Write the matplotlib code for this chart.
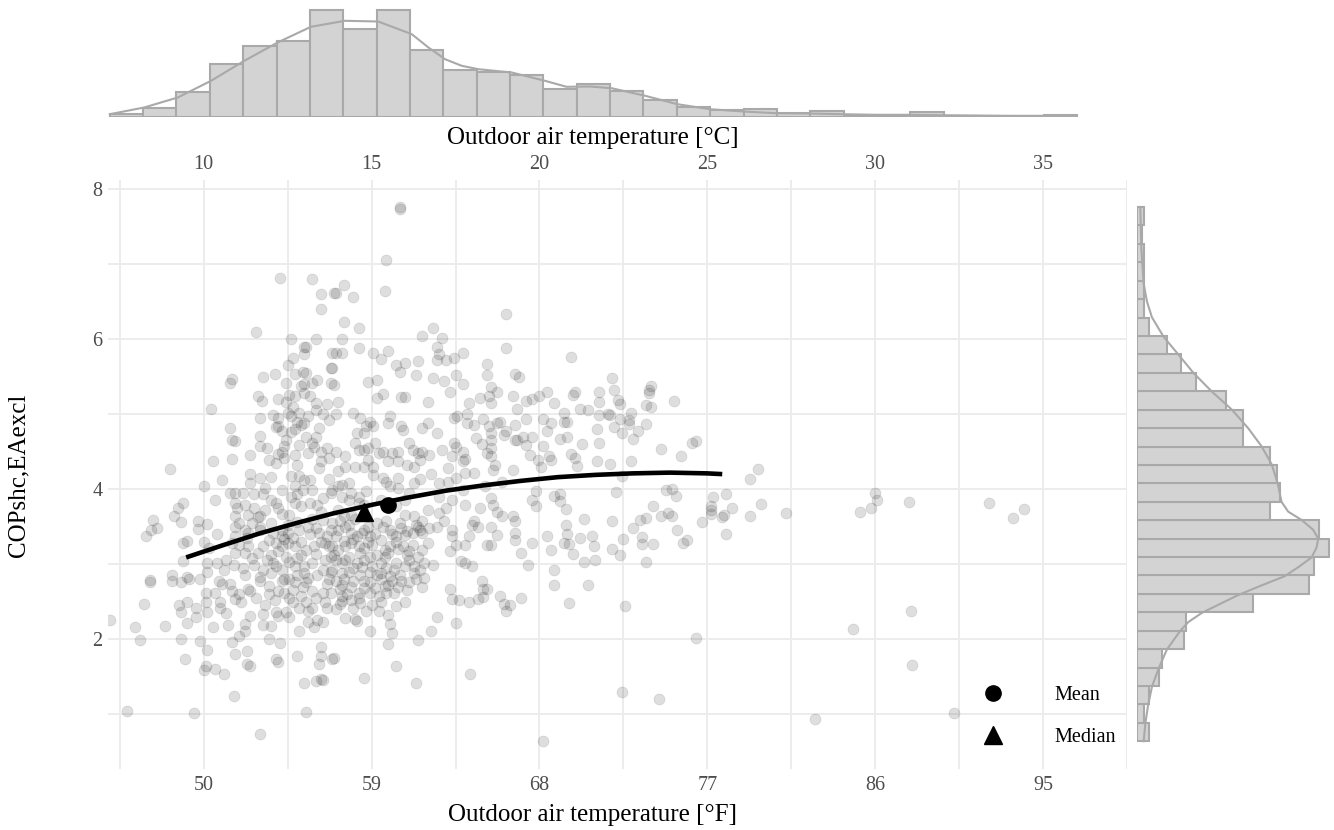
import numpy as np
import matplotlib
matplotlib.use("Agg")
import matplotlib.pyplot as plt
from matplotlib.lines import Line2D

plt.rcParams['font.family'] = ['Liberation Serif', 'DejaVu Serif']

# ---------------- data (°F, COP) ----------------
pts_a = np.array([  # upper left cloud
    (54.1,6.82),(55.8,6.80),(56.3,6.60),(56.3,6.40),(57.0,6.61),(52.8,6.10),(54.7,6.00),(56.0,6.00),
    (55.5,5.90),(55.4,5.89),(55.4,5.80),(54.8,5.75),(54.5,5.66),(54.9,5.54),(55.3,5.56),(55.5,5.55),
    (53.8,5.53),(53.2,5.49),(51.5,5.47),(51.4,5.41),(54.4,5.42),(55.2,5.38),(55.4,5.40),(55.8,5.41),
    (56.1,5.46),(56.8,5.61),(56.8,5.41),(56.9,5.81)])
pts_b = np.array([  # left middle
    (52.9,5.24),(53.1,5.17),(50.4,5.07),(54.0,5.20),(54.4,5.16),(54.6,5.26),(54.9,5.24),(55.4,5.28),
    (55.7,5.24),(56.0,5.15),(56.6,5.14),(56.0,5.05),(54.5,5.01),(54.7,4.98),(55.1,5.01),(53.7,4.99),
    (54.0,4.95),(53.0,4.95),(54.0,4.84),(53.9,4.83),(54.2,4.77),(54.7,4.76),(54.9,4.80),(55.4,4.88),
    (55.2,4.86),(55.6,4.97),(56.2,4.81),(56.7,4.92),(51.4,4.81),(51.5,4.66),(51.7,4.64),(53.0,4.71),
    (53.0,4.58),(54.3,4.57),(54.2,4.50),(54.0,4.47),(55.1,4.59),(55.5,4.70),(56.0,4.70),(55.9,4.56),
    (56.3,4.50),(56.6,4.55),(55.6,4.48),(56.7,4.41),(50.5,4.38),(51.5,4.40),(53.5,4.39),(53.9,4.35),
    (54.3,4.41),(54.9,4.46),(55.0,4.32),(56.3,4.37),(48.2,4.27),(50.0,4.04),(51.0,4.12),(50.6,3.86),
    (51.4,3.95),(51.7,3.95),(52.1,3.95),(52.5,4.20),(52.5,4.08),(53.0,4.15),(53.3,4.01),(53.6,4.16),
    (52.7,3.94),(53.2,3.94),(54.2,3.99),(54.7,4.17),(55.1,4.18),(55.4,4.12),(55.7,4.12),(54.9,4.04),
    (55.3,3.99),(55.8,3.99),(56.7,4.13),(55.0,3.94),(54.7,3.90),(51.7,3.81),(52.2,3.79),(51.8,3.75),
    (52.7,3.75),(52.9,3.63),(51.7,3.64),(53.6,3.86),(53.9,3.81),(54.0,3.75),(54.2,3.67),(54.9,3.81),
    (55.2,3.77),(55.7,3.81),(56.1,3.79),(56.4,3.88),(56.8,3.95),(48.9,3.82),(48.6,3.75),(48.4,3.64),
    (48.8,3.56),(47.3,3.59),(47.5,3.48),(47.2,3.46),(46.9,3.38),(49.7,3.58),(49.7,3.47),(50.2,3.54),
    (50.7,3.40),(48.9,3.28),(49.1,3.31),(48.9,3.04),(51.7,3.50),(51.7,3.37),(52.4,3.66),(52.6,3.55),
    (53.0,3.64),(53.0,3.50),(52.2,3.46),(52.3,3.35),(53.6,3.55),(53.7,3.41),(54.2,3.46),(54.2,3.37),
    (54.5,3.52),(54.5,3.41),(54.5,3.28),(55.1,3.46),(55.6,3.50),(56.0,3.48),(56.4,3.59),(56.8,3.46),
    (56.6,3.37),(50.0,3.30),(50.3,3.21),(51.5,3.28),(51.7,3.15),(51.9,3.26),(52.2,3.15),(52.4,3.24),
    (52.9,3.15),(53.2,3.24),(53.6,3.12),(54.0,3.17),(54.2,3.24),(54.4,3.10),(54.9,3.24),(55.2,3.12),
    (55.5,3.19),(55.9,3.24),(56.3,3.30),(56.7,3.24),(56.8,3.10),(50.2,3.01),(50.7,3.02),(51.2,3.06),
    (48.3,2.86),(49.1,2.83),(50.2,2.90),(51.1,2.92),(51.6,2.99),(52.1,2.95),(52.7,2.99),(53.2,2.92),
    (53.7,3.01),(54.2,2.92),(54.9,2.97),(55.4,2.88),(55.8,3.01),(56.4,2.92),(56.8,2.90),(47.1,2.79)])
pts_c = np.array([  # lower left
    (47.1,2.76),(48.3,2.78),(48.8,2.76),(49.2,2.80),(49.8,2.80),(50.8,2.78),(51.0,2.73),(51.4,2.73),
    (51.5,2.64),(51.9,2.60),(51.7,2.53),(52.0,2.49),(52.4,2.67),(52.5,2.64),(53.0,2.78),(53.5,2.71),
    (53.5,2.60),(54.0,2.64),(54.2,2.78),(54.6,2.80),(54.9,2.76),(55.5,2.76),(55.8,2.64),(56.4,2.62),
    (56.6,2.73),(46.8,2.47),(45.0,2.25),(46.3,2.16),(47.9,2.18),(46.6,1.99),(48.7,2.45),(48.8,2.36),
    (49.1,2.50),(49.1,2.21),(49.6,2.42),(49.6,2.29),(50.1,2.62),(50.1,2.49),(50.2,2.36),(50.9,2.49),
    (50.9,2.41),(50.5,2.16),(51.3,2.19),(52.2,2.20),(52.2,2.11),(51.9,2.04),(52.5,2.31),(53.2,2.19),
    (53.6,2.18),(53.9,2.36),(54.0,2.31),(54.4,2.36),(54.6,2.29),(54.8,2.49),(55.1,2.41),(55.5,2.49),
    (55.8,2.41),(55.6,2.23),(55.9,2.16),(56.1,2.26),(56.4,2.23),(55.1,2.11),(56.6,2.41),(48.8,2.00),
    (49.8,1.98),(50.2,1.86),(51.5,1.96),(51.7,1.80),(52.3,1.84),(53.5,2.00),(54.1,1.95),(52.3,1.67),
    (52.5,1.64),(53.9,1.73),(54.0,1.69),(55.0,1.77),(56.3,1.89),(56.3,1.78),(56.2,1.67),(56.9,1.74),
    (49.0,1.73),(50.1,1.64),(50.0,1.59),(50.6,1.60),(51.1,1.53),(55.4,1.41),(56.0,1.44),(56.3,1.47),
    (56.4,1.46),(51.6,1.24),(45.9,1.04),(49.5,1.01),(55.5,1.03),(53.0,0.73)])
pts_d = np.array([  # upper centre
    (60.5,7.74),(60.5,7.76),(59.8,7.06),(59.7,6.64),(57.1,6.62),(57.5,6.72),(58.0,6.56),(57.5,6.23),
    (58.3,6.15),(57.4,6.00),(66.2,6.34),(61.7,6.04),(62.3,6.15),(62.8,6.01),(62.5,5.90),(62.6,5.80),
    (62.5,5.72),(63.0,5.72),(63.4,5.75),(63.9,5.81),(57.1,5.81),(57.4,5.81),(58.3,5.88),(59.1,5.81),
    (59.5,5.74),(59.9,5.84),(60.3,5.66),(60.8,5.68),(60.5,5.56),(61.5,5.71),(61.4,5.52),(62.3,5.48),
    (62.9,5.44),(63.5,5.52),(63.9,5.40),(65.2,5.67),(65.2,5.52),(65.4,5.36),(66.2,5.88),(66.7,5.53),
    (66.9,5.50),(58.8,5.43),(59.3,5.46),(56.9,5.61),(57.0,5.39)])
pts_e = np.array([  # centre
    (57.2,5.16),(57.1,5.00),(59.3,5.21),(59.6,5.27),(60.6,5.23),(60.8,5.23),(62.0,5.16),(63.2,5.29),
    (64.2,5.15),(64.8,5.21),(65.3,5.24),(65.4,5.15),(65.7,5.30),(66.6,5.24),(66.8,5.07),(67.3,5.17),
    (67.6,5.20),(68.0,5.24),(68.4,5.29),(68.8,5.15),(58.0,5.02),(58.4,4.95),(58.9,4.90),(58.7,4.84),
    (58.6,4.75),(59.1,4.84),(60.0,4.97),(59.9,4.88),(60.6,4.84),(60.7,4.79),(61.7,4.81),(62.0,4.88),
    (63.4,4.95),(63.6,4.98),(64.1,4.88),(64.1,5.00),(65.0,4.93),(65.3,4.84),(65.4,4.75),(65.4,4.66),
    (65.7,4.88),(65.9,4.89),(66.2,4.78),(66.7,4.86),(66.8,4.66),(67.3,4.93),(67.6,4.70),(68.2,4.93),
    (68.6,4.88),(68.4,4.78),(57.1,4.50),(57.6,4.44),(57.6,4.30),(58.1,4.61),(58.3,4.52),(58.6,4.52),
    (58.8,4.55),(58.8,4.39),(58.1,4.30),(58.6,4.30),(59.4,4.48),(59.6,4.50),(60.1,4.48),(60.4,4.50),
    (59.9,4.37),(60.4,4.37),(59.1,4.30),(61.2,4.52),(61.5,4.48),(61.7,4.50),(62.1,4.46),(61.3,4.30),
    (61.6,4.39),(62.8,4.52),(63.4,4.61),(63.5,4.56),(63.9,4.50),(63.3,4.44),(63.9,4.37),(63.1,4.28),
    (64.6,4.68),(64.9,4.60),(65.2,4.48),(65.4,4.55),(65.4,4.44),(65.6,4.32),(65.5,4.26),(66.1,4.72),
    (66.7,4.66),(67.1,4.70),(67.3,4.59),(66.6,4.26),(67.9,4.39),(68.1,4.30),(68.5,4.44),(68.6,4.39),
    (68.2,4.57),(57.2,4.24),(57.2,4.04),(57.4,4.06),(57.8,4.08),(57.9,3.95),(58.3,3.90),(58.7,3.97),
    (59.1,4.19),(59.6,4.15),(60.4,4.15),(60.0,4.04),(60.4,4.01),(61.3,4.08),(61.6,4.13),(60.9,4.32),
    (61.0,3.95),(62.6,4.08),(63.1,4.10),(63.5,4.15),(62.6,3.90),(63.3,3.86),(63.9,3.99),(64.0,4.21),
    (64.5,4.21),(65.1,4.04),(65.4,3.88),(65.5,3.79),(65.7,3.70),(66.0,3.64),(66.6,3.64),(66.7,3.58),
    (67.6,3.86),(67.8,3.97),(67.8,3.77),(68.8,3.91)])
pts_f = np.array([  # centre, dense lower part
    (56.9,3.99),(57.4,3.89),(57.8,3.86),(58.3,3.81),(57.2,3.72),(57.5,3.64),(57.9,3.66),(58.6,3.79),
    (59.5,3.86),(60.3,3.77),(60.8,3.66),(61.3,3.64),(61.7,3.57),(62.0,3.72),(61.5,3.50),(62.1,3.48),
    (62.6,3.68),(62.9,3.57),(63.3,3.46),(63.3,3.37),(64.2,3.38),(64.4,3.52),(64.5,3.57),(64.7,3.50),
    (65.4,3.50),(65.7,3.39),(64.8,3.75),(66.7,3.41),(66.7,3.32),(64.0,3.79),(56.9,3.55),(57.2,3.46),
    (57.6,3.50),(57.1,3.37),(57.9,3.41),(58.2,3.37),(58.6,3.46),(58.9,3.37),(59.3,3.55),(59.6,3.50),
    (60.0,3.46),(60.3,3.37),(60.6,3.48),(60.8,3.39),(61.2,3.41),(61.6,3.46),(61.7,3.41),(62.0,3.28),
    (62.5,3.50),(63.2,3.17),(63.5,3.26),(64.0,3.26),(63.8,3.04),(64.0,3.01),(64.4,2.98),(65.2,3.26),
    (65.4,3.26),(67.0,3.15),(67.4,2.99),(68.4,3.37),(68.6,3.19),(67.6,3.28),(68.8,2.92),(56.9,3.24),
    (57.2,3.19),(57.6,3.24),(57.9,3.28),(58.3,3.24),(58.6,3.21),(59.0,3.26),(59.5,3.32),(59.7,3.19),
    (60.0,3.24),(60.3,3.30),(60.7,3.24),(61.0,3.17),(61.2,3.26),(61.7,3.19),(57.1,3.06),(57.4,3.01),
    (57.8,3.10),(58.2,3.01),(58.6,3.06),(58.9,3.10),(59.5,3.01),(59.7,3.10),(60.3,3.01),(61.0,3.06),
    (61.3,2.97),(61.8,3.01),(62.3,2.99),(56.9,2.92),(57.4,2.88),(57.8,2.90),(58.4,2.86),(58.9,2.90),
    (59.5,2.88),(60.0,2.84),(60.5,2.86),(61.3,2.88),(61.8,2.81)])
pts_core = np.array([  # overlapping points inside the darkest blobs
    (57.3,3.58),(57.8,3.52),(58.1,3.60),(58.5,3.42),(58.8,3.50),(59.2,3.40),(59.8,3.58),(60.1,3.40),
    (60.5,3.55),(60.9,3.44),(61.4,3.52),(57.5,3.31),(58.0,3.34),(58.4,3.15),(58.8,3.30),(59.3,3.12),
    (59.9,3.15),(60.4,3.20),(60.9,3.12),(61.5,3.10),(57.0,3.12),(57.6,3.05),(58.0,2.95),(58.5,2.96),
    (59.0,2.98),(59.3,2.85),(59.8,2.95),(60.2,2.92),(60.8,2.97),(61.6,2.92),(57.4,2.72),(57.9,2.70),
    (58.3,2.55),(58.9,2.62),(59.2,2.68),(59.9,2.72),(60.4,2.69),(60.8,2.50),(58.0,2.42),(59.0,2.45),
    (53.0,3.45),(53.5,3.32),(53.9,3.28),(54.3,3.33),(54.8,3.35),(55.2,3.30),(55.7,3.40),(56.2,3.42),
    (56.5,3.28),(53.4,3.05),(53.9,2.98),(54.6,3.03),(55.0,3.08),(55.4,2.97),(56.0,3.13),(56.5,3.05),
    (52.6,3.08),(52.2,2.85),(53.0,2.83),(53.6,2.88),(54.3,2.80),(55.0,2.85),(55.6,2.82),(56.1,2.86),
    (56.7,2.80),(52.4,3.42),(51.9,3.55),(55.0,3.56),(55.8,3.60),(56.3,3.70),(54.6,3.65),(53.3,3.72),
    (52.8,2.55),(53.3,2.45),(53.8,2.52),(54.3,2.62),(54.8,2.66),(55.2,2.57),(55.6,2.38),(56.0,2.55),
    (56.5,2.50),(56.8,2.62),(55.3,2.70),(54.6,2.55),(53.2,2.33),(51.2,2.35),(50.6,2.62),(57.7,2.60),
    (58.6,2.68),(59.4,2.58),(60.3,2.44),(57.9,2.52),(54.4,4.65),(55.0,4.90),(55.8,4.62),(56.4,5.00),
    (53.4,4.55),(54.8,5.10),(56.2,4.28),(52.5,4.45),(58.2,4.75),(59.2,4.62),(61.0,4.62),(62.5,4.75),
    (64.0,4.40),(62.2,4.20),(59.8,4.10),(60.8,3.85),(63.0,3.75),(66.0,4.10),(64.5,4.85),(67.5,4.45)])
pts_g = np.array([  # lower centre
    (57.1,2.78),(57.5,2.80),(58.0,2.78),(58.6,2.78),(58.9,2.76),(59.5,2.80),(60.1,2.78),(60.6,2.78),
    (61.0,2.76),(61.4,2.80),(57.3,2.67),(57.4,2.58),(57.4,2.51),(57.1,2.40),(57.3,2.47),(58.3,2.62),
    (58.4,2.48),(58.7,2.38),(59.7,2.71),(59.8,2.62),(60.2,2.61),(60.9,2.66),(61.7,2.70),(59.5,2.50),
    (59.4,2.37),(59.9,2.32),(60.0,2.20),(60.1,2.08),(59.9,1.93),(57.6,2.28),(58.1,2.27),(58.2,2.24),
    (58.9,2.11),(62.5,2.30),(62.2,2.11),(61.5,1.99),(63.2,2.67),(63.3,2.54),(63.7,2.52),(64.2,2.49),
    (63.5,2.22),(64.7,2.54),(65.0,2.56),(65.0,2.67),(65.2,2.67),(64.9,2.78),(65.9,2.58),(66.1,2.47),
    (66.2,2.38),(66.4,2.46),(67.0,2.55),(68.8,2.72),(57.0,1.75),(58.6,1.48),(60.3,1.64),(61.4,1.41),
    (64.3,1.54),(68.2,0.64)])
pts_h = np.array([  # right cloud
    (69.7,5.76),(71.9,5.48),(74.0,5.37),(69.8,5.26),(69.9,5.29),(71.2,5.30),(72.0,5.32),(71.2,5.16),
    (72.2,5.19),(72.3,5.14),(73.9,5.32),(73.9,5.28),(75.2,5.18),(73.7,5.12),(74.0,5.10),(69.3,5.02),
    (70.2,5.07),(70.6,5.05),(69.3,4.89),(69.5,4.90),(71.2,4.99),(71.7,5.00),(71.8,4.99),(72.3,4.93),
    (72.8,4.92),(72.9,5.02),(72.8,4.87),(73.7,4.87),(71.1,4.80),(72.0,4.83),(72.4,4.75),(69.1,4.67),
    (69.5,4.70),(70.3,4.60),(71.2,4.62),(73.0,4.67),(73.3,4.77),(74.5,4.53),(76.2,4.61),(76.4,4.64),
    (75.6,4.44),(69.7,4.47),(69.9,4.42),(70.0,4.31),(71.1,4.38),(71.8,4.34),(72.9,4.38),(72.4,4.18),
    (69.1,3.94),(69.1,3.84),(69.4,3.73),(72.1,3.96),(70.4,3.60),(69.4,3.52),(69.5,3.40),(69.6,3.27),
    (69.3,3.28),(69.8,3.13),(70.4,3.03),(71.0,3.06),(70.2,3.35),(70.8,3.37),(70.9,3.24),(71.9,3.57),
    (72.5,3.33),(71.9,3.20),(72.3,3.12),(73.0,3.48),(73.4,3.59),(73.7,3.62),(73.5,3.36),(73.5,3.27),
    (74.1,3.77),(74.1,3.27),(73.7,3.03),(74.5,3.64),(74.9,3.68),(75.1,3.64),(74.8,3.99),(75.1,4.00),
    (75.3,3.91),(75.4,3.46),(75.7,3.28),(75.9,3.32),(76.7,3.56),(77.2,3.72),(77.2,3.77),(77.2,3.67),
    (77.3,3.90),(78.0,3.94),(78.3,3.75),(77.8,3.63),(77.9,3.66),(78.0,3.40),(79.3,3.64),(79.3,4.14),
    (79.7,4.27),(79.9,3.80),(81.2,3.68),(70.6,2.72),(69.6,2.48),(72.6,2.44),(76.4,2.02),(72.4,1.30),
    (74.4,1.20)])
pts_i = np.array([  # far right
    (82.8,0.93),(84.8,2.13),(85.2,3.69),(85.8,3.75),(86.0,3.95),(86.1,3.86),(87.8,3.83),(87.9,2.38),
    (88.0,1.65),(90.2,1.01),(92.1,3.81),(93.4,3.61),(94.0,3.74)])

# fitted curve
fit_f   = [49.06, 51, 53, 55, 57, 59, 61, 63, 65, 67, 69, 71, 73, 75, 77, 77.8]
fit_cop = [3.09, 3.25, 3.41, 3.55, 3.68, 3.79, 3.89, 3.98, 4.05, 4.11, 4.16, 4.19, 4.21, 4.22, 4.21, 4.20]

mean_f, mean_cop = 59.9, 3.79
median_f, median_cop = 58.6, 3.69

# top histogram (°C)
top_bin_start = 7.2
top_bin_width = 0.942
top_counts = [3, 9, 25, 53, 71, 76, 107, 88, 107, 67, 47, 45, 42, 28, 33, 26, 17, 10, 7, 8,
              4, 6, 2, 1, 5, 1, 1, 0, 2]
top_kde_c = [7.20, 8.17, 9.12, 10.06, 11.0, 11.94, 12.88, 13.84, 14.78, 15.73, 16.20, 16.67, 17.14,
             17.61, 18.55, 19.49, 20.10, 20.76, 21.37, 22.32, 23.23, 24.15, 25.08, 26.02, 26.93,
             27.88, 28.80, 29.71, 30.68, 31.60, 32.51, 33.42, 34.41]
top_kde_n = [2.3, 9, 19, 35.7, 55.7, 74, 89.7, 95.7, 95, 82.3, 69, 57.3, 50.7, 47.3, 44, 35.7, 29.7,
             30, 28.3, 20.7, 12.3, 7.3, 5, 3.3, 3, 2.3, 1.7, 1.7, 1.3, 1, 0.7, 0.7, 0.7]

# right histogram (COP), ascending
right_bin_start = 0.64
right_bin_width = 0.2455
right_counts = [5, 3, 5, 9, 10, 19, 20, 47, 70, 72, 78, 74, 54, 58, 57, 54, 43, 43, 36, 24, 18, 12,
                5, 3, 3, 3, 3, 2, 3]
right_kde_cop = [0.64, 0.88, 1.12, 1.37, 1.61, 1.86, 2.11, 2.23, 2.35, 2.46, 2.59, 2.70, 2.84, 2.96,
                 3.09, 3.22, 3.34, 3.46, 3.59, 3.70, 3.83, 4.08, 4.33, 4.57, 4.81, 5.06, 5.30, 5.55,
                 5.79, 6.03, 6.29, 6.50, 6.74, 7.21, 7.76]
right_kde_n = [2.7, 3.4, 4.5, 6.1, 8.8, 12.1, 17.5, 20.9, 26.3, 33.1, 41.2, 49.3, 60.0, 65.5, 70.9,
               72.9, 73.6, 71.5, 66.8, 61.4, 58.7, 57.1, 54.7, 50.6, 45.2, 38.5, 30.4, 22.9, 16.9,
               10.8, 6.07, 4.05, 2.7, 1.75, 1.35]

x_ticks_f = [50, 59, 68, 77, 86, 95]
x_ticks_c = [10, 15, 20, 25, 30, 35]
y_ticks = [2, 4, 6, 8]

# ---------------- layout ----------------
W, H = 1334, 830
fig = plt.figure(figsize=(W / 100, H / 100), dpi=100)

def box(l, t, r, b):
    return [l / W, 1 - b / H, (r - l) / W, (b - t) / H]

ax = fig.add_axes(box(108, 180, 1127, 769))
axt = fig.add_axes(box(108, 2, 1127, 116.5))
axr = fig.add_axes(box(1137, 180, 1334, 769))

xlim_f = (44.87, 96.67)
ylim = (0.27, 8.12)
ax.set_xlim(*xlim_f)
ax.set_ylim(*ylim)

GRID = '#ebebeb'
TICKC = '#4d4d4d'
ax.set_xticks(x_ticks_f)
ax.set_xticks([t - 4.5 for t in x_ticks_f] + [x_ticks_f[-1] + 4.5], minor=True)
ax.set_yticks(y_ticks)
ax.set_yticks([t - 1 for t in y_ticks], minor=True)
ax.grid(which='both', color=GRID, lw=1.3)
ax.set_axisbelow(True)
for s in ax.spines.values():
    s.set_visible(False)
ax.tick_params(which='both', length=0, labelsize=14.5, labelcolor=TICKC)
ax.tick_params(axis='x', pad=5)
ax.tick_params(axis='y', pad=4)

pts = np.concatenate([pts_a, pts_b, pts_c, pts_d, pts_e, pts_f, pts_core, pts_g, pts_h, pts_i])
ax.scatter(pts[:, 0], pts[:, 1], s=62, facecolor=(0, 0, 0, 0.13),
           edgecolor=(0, 0, 0, 0.10), linewidth=0.6, zorder=2)
ax.plot(fit_f, fit_cop, color='black', lw=3.3, solid_capstyle='butt', zorder=3)
ax.plot([mean_f], [mean_cop], marker='o', ms=11, color='black', ls='none', zorder=4)
ax.plot([median_f], [median_cop], marker='^', ms=13, color='black', ls='none', zorder=4)

sec = ax.secondary_xaxis('top', functions=(lambda f: (f - 32) / 1.8, lambda c: c * 1.8 + 32))
sec.set_xticks(x_ticks_c)
sec.tick_params(length=0, labelsize=14.5, labelcolor=TICKC, pad=4)
for s in sec.spines.values():
    s.set_visible(False)

# axis titles
fig.text(593 / W, 1 - 815 / H, 'Outdoor air temperature [°F]', ha='center', va='center', fontsize=18)
fig.text(593 / W, 1 - 138 / H, 'Outdoor air temperature [°C]', ha='center', va='center', fontsize=18)
fig.text(18 / W, 1 - 475 / H, 'COPshc,EAexcl', ha='center', va='center', rotation=90, fontsize=18)

handles = [Line2D([], [], marker='o', ms=11, color='black', ls='none'),
           Line2D([], [], marker='^', ms=13, color='black', ls='none')]
leg = fig.legend(handles, ['Mean', 'Median'], loc='lower right', frameon=False,
                 fontsize=14.5, bbox_to_anchor=(1116 / W, 1 - 747 / H), handlelength=1.5,
                 handletextpad=2.3, labelspacing=1.15, borderpad=0, borderaxespad=0)

# top histogram
HFILL = '#d3d3d3'
HEDGE = '#a9a9a9'
top_edges = top_bin_start + top_bin_width * np.arange(len(top_counts))
axt.bar(top_edges, top_counts, width=top_bin_width, align='edge', color=HFILL,
        edgecolor=HEDGE, lw=1.5)
axt.plot(top_kde_c, top_kde_n, color=HEDGE, lw=1.5)
axt.set_xlim((xlim_f[0] - 32) / 1.8, (xlim_f[1] - 32) / 1.8)
axt.set_ylim(0, 114.5)
axt.axis('off')

# right histogram
right_edges = right_bin_start + right_bin_width * np.arange(len(right_counts))
axr.barh(right_edges, right_counts, height=right_bin_width, align='edge', color=HFILL,
         edgecolor=HEDGE, lw=1.5)
axr.plot(right_kde_n, right_kde_cop, color=HEDGE, lw=1.5)
axr.set_ylim(*ylim)
axr.set_xlim(0, 80)
axr.axis('off')

fig.savefig('out.png', dpi=100)
